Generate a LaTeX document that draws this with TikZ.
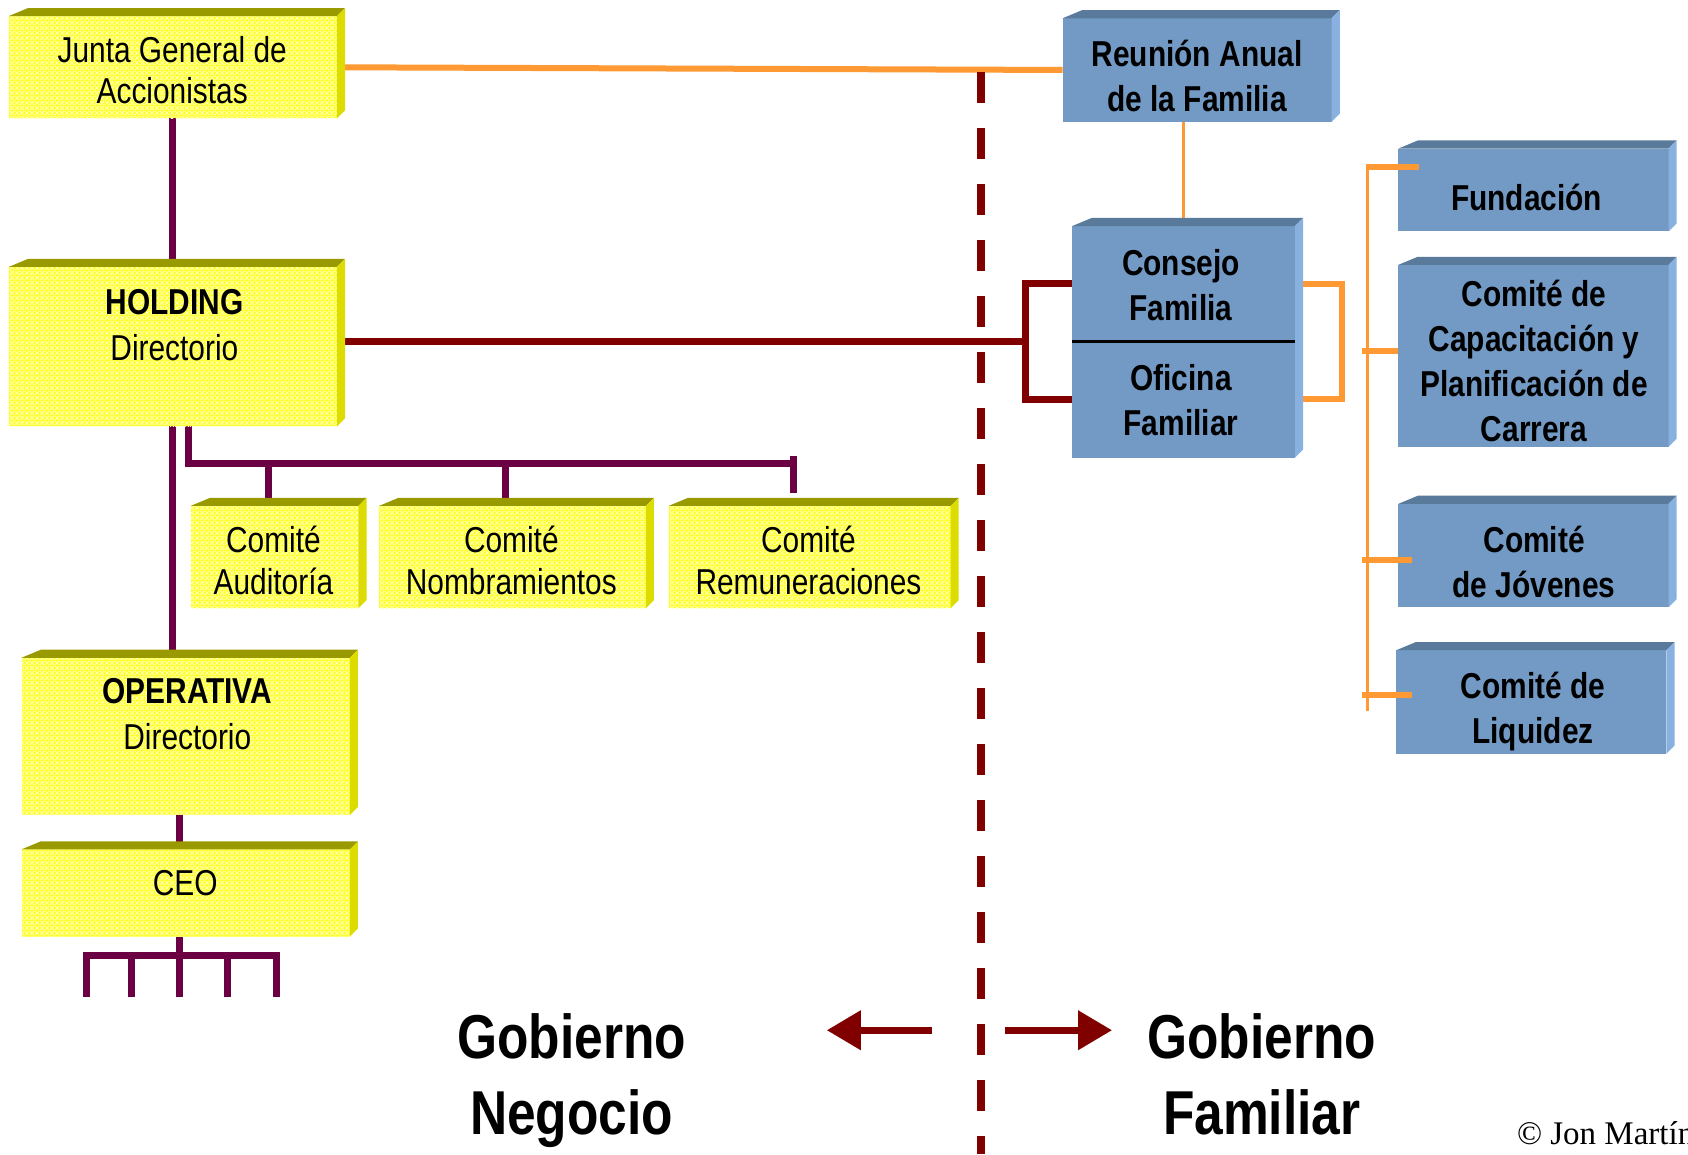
\documentclass[tikz,border=0pt]{standalone}
\usepackage{fontspec}
\setmainfont{Liberation Sans}[FakeStretch=0.83]
\newfontfamily\copyfont{Liberation Serif}
\usetikzlibrary{fit,calc,patterns,arrows.meta}

% colours
\definecolor{yface}{HTML}{FFFF2E}
\definecolor{ylight}{HTML}{FFFFB4}
\definecolor{ytop}{HTML}{999900}
\definecolor{yright}{HTML}{DCDC00}
\definecolor{bface}{HTML}{739AC5}
\definecolor{btop}{HTML}{5A7A9C}
\definecolor{bright}{HTML}{88B1E0}
\definecolor{linepurple}{HTML}{6B0042}
\definecolor{dred}{HTML}{800000}
\definecolor{orng}{HTML}{FF9933}

% light diagonal lattice on the yellow boxes
\pgfdeclarepatternformonly{ydiag}{\pgfqpoint{0pt}{0pt}}{\pgfqpoint{5pt}{5pt}}{\pgfqpoint{5pt}{5pt}}{%
  \pgfsetlinewidth{0.9pt}%
  \pgfpathmoveto{\pgfqpoint{0pt}{0pt}}\pgfpathlineto{\pgfqpoint{5pt}{5pt}}%
  \pgfpathmoveto{\pgfqpoint{0pt}{5pt}}\pgfpathlineto{\pgfqpoint{5pt}{0pt}}%
  \pgfusepath{stroke}}

\pgfdeclarelayer{links}
\pgfsetlayers{links,main}

% invisible struts: keep every label centred on its capital letters
\newcommand\labtop{\vrule height 1em depth 0pt width 0pt}
\newcommand\labbot{\vrule height 0pt depth .284em width 0pt}

% top and right faces of a box (front node #3, lower front node #4)
\newcommand\boxfaces[4]{%
  \fill[#1] (#3.north west) -- ++(18,-7.5) -- ($(#3.north east)+(7.5,-7.5)$) -- (#3.north east) -- cycle;
  \fill[#2] (#3.north east) -- ++(7.5,-7.5) -- ($(#4.south east)+(7.5,-7.5)$) -- (#4.south east) -- cycle;}

\begin{document}
\begin{tikzpicture}[x=1.0765pt, y=-1.0765pt,
  ybox/.style={rectangle, inner sep=0pt, outer sep=0pt, fill=yface,
               postaction={pattern=ydiag, pattern color=ylight}},
  bbox/.style={rectangle, inner sep=0pt, outer sep=0pt, fill=bface},
  rtxt/.style={align=center, inner sep=0pt, font=\fontsize{36}{41}\selectfont},
  ctxt/.style={align=center, inner sep=0pt, font=\fontsize{36}{42}\selectfont},
  htxt/.style={align=center, inner sep=0pt, font=\fontsize{36}{46}\selectfont},
  btxt/.style={align=center, inner sep=0pt, font=\bfseries\fontsize{36}{45}\selectfont},
  gtxt/.style={align=center, inner sep=0pt, font=\bfseries\fontsize{62}{76}\selectfont},
  pline/.style={draw=linepurple, line width=7pt},
  rline/.style={draw=dred, line width=7pt},
  oline/.style={draw=orng, line width=6pt},
  othin/.style={draw=orng, line width=2.5pt},
  splitline/.style={draw=dred, line width=8pt, dash pattern=on 31pt off 25pt},
  bigarrow/.style={draw=dred, line width=7pt, -{Triangle[length=34pt,width=38pt]}}
]
\useasboundingbox (0,0) rectangle (1568,1072);

% ---------- business side (yellow) ----------
\node[ybox, fit={(8,15) (313,110)}] (junta) {};
\node[ybox, fit={(8,248) (313,396)}] (holding) {};
\node[ybox, fit={(177,470) (333,565)}] (aud) {};
\node[ybox, fit={(352,470) (600,565)}] (nom) {};
\node[ybox, fit={(621,470) (883,565)}] (rem) {};
\node[ybox, fit={(20,611) (325,757)}] (operativa) {};
\node[ybox, fit={(20,789) (325,870)}] (ceo) {};
\foreach \b in {junta,holding,aud,nom,rem,operativa,ceo} {\boxfaces{ytop}{yright}{\b}{\b}}

% ---------- family side (blue) ----------
\node[bbox, fit={(987,17) (1237,113)}] (reunion) {};
\node[bbox, fit={(996,210) (1203,317)}] (consejo) {};
\node[bbox, fit={(996,317) (1203,425)}] (oficina) {};
\node[bbox, fit={(1299,138) (1550,215)}] (fund) {};
\node[bbox, fit={(1299,246) (1550,415)}] (capac) {};
\node[bbox, fit={(1299,468) (1550,564)}] (jov) {};
\node[bbox, fit={(1297,604) (1548,700)}] (liq) {};
\boxfaces{btop}{bright}{reunion}{reunion}
\boxfaces{btop}{bright}{consejo}{oficina}
\foreach \b in {fund,capac,jov,liq} {\boxfaces{btop}{bright}{\b}{\b}}
\draw[black, line width=3pt] (consejo.south west) -- (consejo.south east);

% ---------- labels ----------
\node[rtxt] (juntaT) at (160,65) {\labtop Junta General de\\Accionistas\labbot};
\node[htxt] (holdT) at (162,301.5) {\labtop{\bfseries HOLDING}\\Directorio\labbot};
\node[ctxt] (audT) at (254,520.5) {\labtop Comité\\Auditoría\labbot};
\node[ctxt] (nomT) at (475,520.5) {\labtop Comité\\Nombramientos\labbot};
\node[ctxt] (remT) at (751,520.5) {\labtop Comité\\Remuneraciones\labbot};
\node[htxt] (opT) at (174,662.5) {\labtop{\bfseries OPERATIVA}\\Directorio\labbot};
\node[rtxt] (ceoT) at (172,820) {\labtop CEO\labbot};
\node[btxt] (reuT) at (1112,71) {\labtop Reunión Anual\\de la Familia\labbot};
\node[btxt] (conT) at (1097,264.5) {\labtop Consejo\\Familia\labbot};
\node[btxt] (ofiT) at (1097,371.5) {\labtop Oficina\\Familiar\labbot};
\node[btxt] (funT) at (1418,184) {\labtop Fundación\labbot};
\node[btxt] (capT) at (1425,335.5) {\labtop Comité de\\Capacitación y\\Planificación de\\Carrera\labbot};
\node[btxt] (jovT) at (1425,522) {\labtop Comité\\de Jóvenes\labbot};
\node[btxt] (liqT) at (1424,658) {\labtop Comité de\\Liquidez\labbot};
\node[gtxt] (gneg) at (531,997.5) {\labtop Gobierno\\Negocio\labbot};
\node[gtxt] (gfam) at (1172,997.5) {\labtop Gobierno\\Familiar\labbot};
\node[anchor=base west, inner sep=0pt, font=\copyfont\fontsize{33}{36}\selectfont] (copy) at (1409,1063) {© Jon Martín};

% ---------- connectors (behind the boxes) ----------
\begin{pgfonlayer}{links}
  \draw[pline] (junta.south) -- (holding.north);
  \draw[oline] (junta.east) -- (reunion.west);
  \draw[othin] (consejo.north |- reunion.south) -- (consejo.north);
  \coordinate (bk) at (953,317);
  \draw[rline] (holding.east |- bk) -- (bk);
  \draw[rline] (consejo.west) -| (bk) |- (oficina.west);
  \draw[oline] (consejo.east) -- ++(44,0) |- (oficina.east);
  % holding board down to the operating board
  \draw[pline] (holding.south) -- (holding.south |- operativa.north);
  % board committees
  \coordinate (cb) at (175,431);
  \coordinate (cbend) at (737,431);
  \draw[pline] (holding.south -| cb) -- (cb) -- (cbend);
  \draw[pline] ($(aud.north |- cb)+(-6,0)$) -- ($(aud.north)+(-6,0)$);
  \draw[pline] ($(nom.north |- cb)+(-6,0)$) -- ($(nom.north)+(-6,0)$);
  \draw[pline] ($(cbend)+(0,-7)$) -- ($(cbend)+(0,27)$);
  % operating board, CEO and the units below
  \draw[pline] ($(operativa.south)+(-6,0)$) -- ($(ceo.north)+(-6,0)$);
  \draw[pline] ($(ceo.south)+(-6,0)$) -- ++(0,56);
  \draw[pline, line join=miter] (80,926) -- (80,888) -- (257,888) -- (257,926);
  \foreach \x in {122,211} \draw[pline] (\x,888) -- (\x,926);
  % business / family divide
  \draw[splitline] (911,67) -- (911,1072);
\end{pgfonlayer}

% family committees bus
\coordinate (bustop) at (1270,155);
\coordinate (busbot) at (1270,660);
\draw[draw=orng, line width=3pt] (bustop) -- (busbot);
\draw[oline] ($(bustop)+(-1.5,0)$) -- ($(fund.west)+(19,-21.5)$);
\draw[oline] ($(capac.west)+(-34,-4.5)$) -- ($(capac.west)+(0,-4.5)$);
\draw[oline] ($(jov.west)+(-34,4)$) -- ($(jov.west)+(13,4)$);
\draw[oline] ($(liq.west)+(-32,-6)$) -- ($(liq.west)+(15,-6)$);

% direction arrows
\coordinate (la0) at (866,957);
\coordinate (la1) at (768,957);
\coordinate (ra0) at (934,957);
\coordinate (ra1) at (1033,957);
\draw[bigarrow] (la0) -- (la1);
\draw[bigarrow] (ra0) -- (ra1);
\end{tikzpicture}
\end{document}
